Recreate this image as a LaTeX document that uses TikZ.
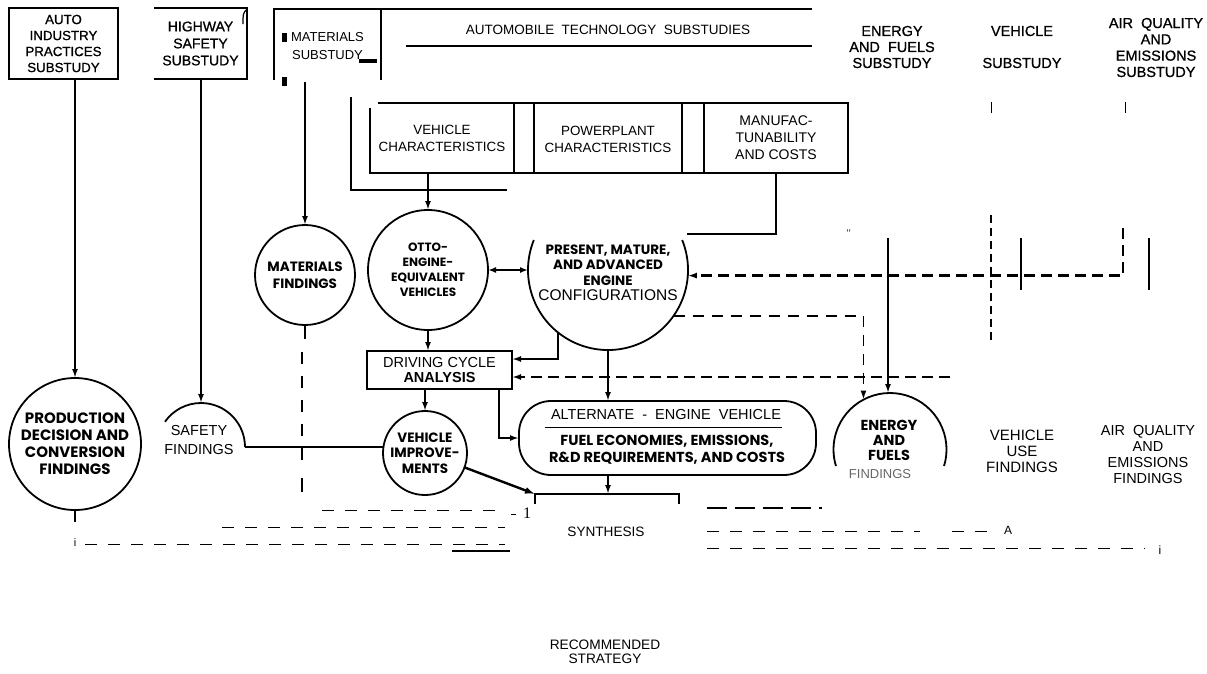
\documentclass[tikz,border=0pt]{standalone}
\usepackage{fontspec}
\setmainfont{Liberation Sans}
\newfontfamily\semib{Liberation Sans}[FakeBold=0.9]
\newfontfamily\geo{Poppins}
\newfontfamily\serifnum{Liberation Serif}
\usetikzlibrary{arrows.meta}
\newcommand{\myfs}[2]{\fontsize{#1}{#2}\selectfont}
\begin{document}
\begin{tikzpicture}[x=1pt,y=-1pt,
  every node/.style={inner sep=0pt, outer sep=0pt, align=center},
  circ/.style={circle, draw, line width=1.8pt},
  ln/.style={line width=1.8pt},
  arr/.style={line width=1.8pt, -{Latex[length=9pt,width=6pt]}},
  dsh/.style={line width=2.4pt, dash pattern=on 11pt off 6pt},
  mdsh/.style={line width=1.8pt, dash pattern=on 11pt off 8pt},
  thd/.style={line width=1pt, dash pattern=on 12pt off 11pt},
]
\useasboundingbox (0,0) rectangle (1207,673);
\fill[white] (0,0) rectangle (1207,673);

% ---------- top substudy boxes ----------
\node[draw, line width=1.6pt, minimum width=109pt, minimum height=71pt, font=\semib\myfs{13.3}{16}] (ai) at (63.5,43.5) {AUTO\\INDUSTRY\\PRACTICES\\SUBSTUDY};
\node[minimum width=93pt, minimum height=71pt, font=\semib\myfs{14}{17}] (hw) at (200.5,43.5) {HIGHWAY\\SAFETY\\SUBSTUDY};
\draw[ln] (hw.north west) -- (hw.north east) -- (hw.south east) -- (hw.south west);
\draw[line width=1.2pt] (246,10) .. controls (243,14) .. (243,24);

\node[minimum width=107pt, minimum height=71pt, font=\myfs{13}{18}] (ms) at (327.5,46) {MATERIALS\\SUBSTUDY};
\draw[ln] (274,80) -- (274,9) -- (812,9);
\draw[ln] (381,9) -- (381,80);
\fill (281.5,33) rectangle (286.5,42);
\fill (281.5,77) rectangle (286.5,86);
\fill (359,59) rectangle (377,63);
\node[font=\myfs{13.5}{16}] (ats) at (608,30) {AUTOMOBILE\ \ TECHNOLOGY\ \ SUBSTUDIES};
\draw[ln] (406,46) -- (812,46);

\node[font=\semib\myfs{14.5}{16}] (efs) at (892,47) {ENERGY\\AND\ \ FUELS\\SUBSTUDY};
\node[font=\semib\myfs{14.5}{16}] (vsub) at (1022,47) {VEHICLE\\[16pt]SUBSTUDY};
\node[font=\semib\myfs{14.5}{16.3}] (aqs) at (1156,47.5) {AIR\ \ QUALITY\\AND\\EMISSIONS\\SUBSTUDY};
\draw[line width=1pt] (991,102) -- (991,113);
\draw[line width=1pt] (1125,102) -- (1125,113);

% ---------- automobile technology boxes ----------
\node[minimum width=144pt, minimum height=70pt, font=\myfs{13.4}{17}] (vc) at (442,138) {VEHICLE\\CHARACTERISTICS};
\node[minimum width=148pt, minimum height=70pt, font=\myfs{13.4}{17}] (pc) at (608,139) {POWERPLANT\\CHARACTERISTICS};
\node[minimum width=144pt, minimum height=70pt, font=\myfs{14}{17}] (mc) at (776,138) {MANUFAC-\\TUNABILITY\\AND COSTS};
\draw[ln] (378,103) -- (848,103) -- (848,173) -- (370,173) -- (370,108);
\draw[ln] (514,103) -- (514,173) (534,103) -- (534,173) (682,103) -- (682,173) (704,103) -- (704,173);
\draw[line width=2.6pt] (351,97) -- (351,190) -- (507,190);

% ---------- circles ----------
\node[circ, minimum size=132pt, font=\geo\bfseries\myfs{15}{17}] (prod) at (75,444) {PRODUCTION\\DECISION AND\\CONVERSION\\FINDINGS};
\node[circle, minimum size=88pt] (saf) at (201,447) {};
\node[font=\myfs{14.5}{19}] (saft) at (199,440) {SAFETY\\FINDINGS};
\node[circ, minimum size=100pt, font=\geo\bfseries\myfs{13.5}{17}] (matf) at (305,275) {MATERIALS\\FINDINGS};
\node[circ, minimum size=120pt, font=\geo\bfseries\myfs{12}{15}] (otto) at (428,270) {OTTO-\\ENGINE-\\EQUIVALENT\\VEHICLES};
\node[circle, minimum size=160pt] (pm) at (608,270) {};
\node[font=\geo\bfseries\myfs{13.5}{15.5}] (pmt) at (608,273) {PRESENT, MATURE,\\AND ADVANCED\\ENGINE\\{\normalfont\myfs{15.5}{15.5}CONFIGURATIONS}};
\node[circ, minimum size=84pt, font=\geo\bfseries\myfs{13.5}{15.5}] (vimp) at (425,453) {VEHICLE\\IMPROVE-\\MENTS};
\node[circle, minimum size=113pt] (en) at (890,449.5) {};
\node[font=\geo\bfseries\myfs{14.5}{15}] (ent) at (889,440) {ENERGY\\AND\\FUELS};
\node[font=\myfs{13}{13}, text=black!60] (enf) at (880,474) {FINDINGS};

\draw[ln] ([shift={(-22:80)}]pm.center) arc[start angle=-22, end angle=202, radius=80];
\draw[ln] ([shift={(0:44)}]saf.center) arc[start angle=0, end angle=-145, radius=44];
\draw[ln] ([shift={(17:56.5)}]en.center) arc[start angle=17, end angle=-197, radius=56.5];

% ---------- boxes ----------
\node[draw, ln, minimum width=145pt, minimum height=38pt, font=\myfs{14.5}{15}] (dca) at (439.5,370) {DRIVING CYCLE\\\textbf{ANALYSIS}};
\node[draw, ln, rounded corners=32pt, minimum width=297pt, minimum height=74pt] (alt) at (667.5,438) {};
\node[font=\myfs{14.5}{16}] (alt1) at (666,414) {ALTERNATE\ \ -\ \ ENGINE\ \ VEHICLE};
\draw[line width=1pt] (545,427) -- (782,427);
\node[font=\geo\bfseries\myfs{14.5}{17}] (alt2) at (667,450) {FUEL ECONOMIES, EMISSIONS,\\R\&D REQUIREMENTS, AND COSTS};
\node[minimum width=144pt, minimum height=10pt] (synb) at (607,499) {};
\draw[ln] (synb.south west) -- (synb.north west) -- (synb.north east) -- (synb.south east);
\node[font=\myfs{13.6}{16}] (syn) at (606,532) {SYNTHESIS};
\node[font=\myfs{13.7}{14}] (rec) at (605,652) {RECOMMENDED\\STRATEGY};

\node[font=\myfs{15}{16}] (vuf) at (1022,451) {VEHICLE\\USE\\FINDINGS};
\node[font=\myfs{14.5}{16}] (aqf) at (1148,454) {AIR\ \ QUALITY\\AND\\EMISSIONS\\FINDINGS};

% ---------- connectors ----------
\draw[arr] (ai.south -| prod.north) -- (prod.north);
\draw[ln] (prod.south) -- ++(0,12);
\draw[arr] (hw.south -| saf.north) -- (saf.north);
\draw[ln] (saf.east) -- (saf.east -| vimp.west);
\draw[arr] (ms.south -| matf.north) -- (matf.north);
\draw[ln] (matf.south) -- ++(0,14);
\draw[line width=1.2pt, dash pattern=on 12pt off 12pt] (302,352) -- (302,470);
\draw[line width=1.2pt] (302,478) -- (302,492);
\draw[arr] (vc.south -| otto.north) -- (otto.north);
\coordinate (mcl) at (687,234);
\draw[ln] (mc.south) |- (mcl);
\draw[ln, {Latex[length=8pt,width=6pt]}-{Latex[length=8pt,width=6pt]}] (otto.east) -- (pm.west);
\coordinate (aqv) at (1123,228);
\draw[dsh, -{Latex[length=9pt,width=6pt]}] (aqv) |- (pm.-4);
\draw[line width=1.2pt, dash pattern=on 8pt off 5pt] (991,215) -- (991,340);
\draw[ln] (1021,238) -- (1021,290);
\draw[ln] (1149,238) -- (1149,290);
\node[font=\serifnum\itshape\myfs{10}{10}] (qm) at (848,233) {''};
\coordinate (efl) at (888,238);
\draw[arr] (efl) -- (efl |- en.north);
\draw[mdsh, -{Latex[length=9pt,width=6pt]}] (pm.-35) -| (en.118);
\coordinate (drl) at (950,377);
\draw[dsh, -{Latex[length=9pt,width=6pt]}] (drl) -- ([yshift=-7pt]dca.east);
\draw[arr] (pm.-129.6) |- ([yshift=11pt]dca.east);
\draw[arr] (otto.south) -- (otto.south |- dca.north);
\draw[arr] (dca.south -| vimp.north) -- (vimp.north);
\draw[arr] ([xshift=-13pt]dca.south east) |- (alt.west);
\draw[arr] (pm.south) -- (alt.north -| pm.south);
\draw[arr] (alt.south -| pm.south) -- (synb.north -| pm.south);
\draw[line width=2.4pt, -{Latex[length=10pt,width=7pt]}] (vimp.-20) -- (synb.north west);

% ---------- bottom dashed lines ----------
\draw[thd] (322,510) -- (505,510);
\draw[line width=1pt] (511,514) -- (516,514);
\node[font=\serifnum\myfs{16}{16}] (one) at (527,513) {1};
\draw[thd] (222,527) -- (505,527);
\node[font=\myfs{11}{11}] (ii) at (75,543) {i};
\draw[thd] (85,544) -- (505,544);
\draw[line width=1.5pt] (452,551) -- (510,551);
\draw[line width=2.2pt, dash pattern=on 20pt off 8pt] (707,508) -- (822,508);
\draw[thd] (707,531) -- (920,531);
\draw[thd] (952,531) -- (995,531);
\node[font=\myfs{12}{12}] (aa) at (1008,530) {A};
\draw[thd] (707,548) -- (1145,548);
\node[font=\myfs{12}{12}] (i2) at (1160,550) {i};
\end{tikzpicture}
\end{document}
